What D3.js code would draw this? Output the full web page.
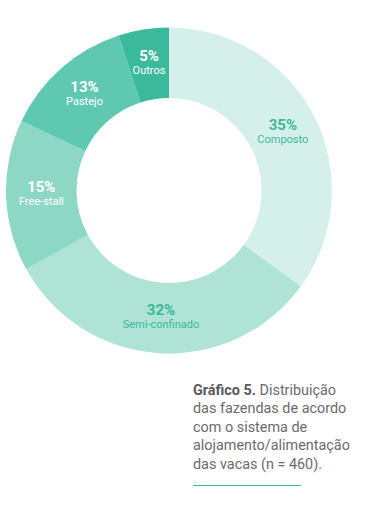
<!DOCTYPE html>
<html>
<head>
<meta charset="utf-8">
<script src="https://cdn.jsdelivr.net/npm/d3@7"></script>
<style>
  body { margin: 0; background: #fff; }
  svg { display: block; font-family: Roboto, "Noto Sans", sans-serif; }
</style>
</head>
<body>
<div id="chart"></div>
<script>
// dados do gráfico
const categorias = ["Composto", "Semi-confinado", "Free-stall", "Pastejo", "Outros"];
const valores = [35, 32, 15, 13, 5];
const cores = ["#d5f0ea", "#aee3d6", "#8dd7c5", "#5fc8b0", "#3bb99b"];
const corTexto = ["#3bb99b", "#3bb99b", "#fff", "#fff", "#fff"];
const legenda = [
  ["Gráfico 5.", " Distribuição"],
  ["", "das fazendas de acordo"],
  ["", "com o sistema de"],
  ["", "alojamento/alimentação"],
  ["", "das vacas (n = 460)."]
];

drawChart();

function drawChart() {
  const width = 366, height = 517;
  const cx = 169, cy = 190.5;
  const outerR = 163, innerR = 92.5;

  const svg = d3.select("#chart").append("svg")
    .attr("width", width)
    .attr("height", height);

  const dados = categorias.map((c, i) => ({ nome: c, valor: valores[i], i: i }));

  // pie começando no topo, sentido horário
  const pie = d3.pie()
    .value(d => d.valor)
    .sort(null);

  const arc = d3.arc()
    .innerRadius(innerR)
    .outerRadius(outerR);

  const g = svg.append("g")
    .attr("transform", "translate(" + cx + "," + cy + ")");

  const fatias = pie(dados);

  g.selectAll("path")
    .data(fatias)
    .join("path")
    .attr("d", arc)
    .attr("fill", d => cores[d.data.i]);

  const rotulos = g.selectAll("g.rotulo")
    .data(fatias)
    .join("g")
    .attr("class", "rotulo")
    .attr("transform", d => "translate(" + arc.centroid(d) + ")");

  rotulos.append("text")
    .attr("text-anchor", "middle")
    .attr("y", -3)
    .attr("font-size", "15px")
    .attr("font-weight", "bold")
    .attr("fill", d => corTexto[d.data.i])
    .text(d => d.data.valor + "%");

  rotulos.append("text")
    .attr("text-anchor", "middle")
    .attr("y", 10)
    .attr("font-size", "11px")
    .attr("fill", d => corTexto[d.data.i])
    .text(d => d.data.nome);

  // legenda do gráfico
  const leg = svg.append("text")
    .attr("x", 193)
    .attr("y", 394.5)
    .attr("font-size", "14.4px")
    .attr("fill", "#6a6b6d");

  legenda.forEach((linha, i) => {
    const t = leg.append("tspan")
      .attr("x", 193)
      .attr("dy", i === 0 ? 0 : 18.5);
    if (linha[0]) {
      t.append("tspan")
        .attr("font-weight", "bold")
        .attr("fill", "#58595b")
        .text(linha[0]);
    }
    t.append("tspan").text(linha[1]);
  });

  svg.append("line")
    .attr("x1", 193)
    .attr("x2", 301)
    .attr("y1", 485.5)
    .attr("y2", 485.5)
    .attr("stroke", "#3bb99b")
    .attr("stroke-width", 1);
}
</script>
</body>
</html>
